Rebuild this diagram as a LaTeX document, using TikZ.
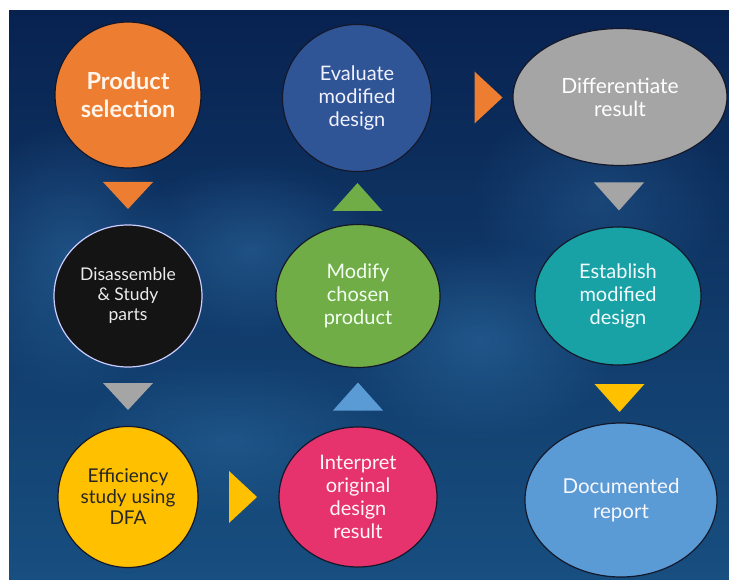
\documentclass[tikz,border=0pt]{standalone}
\usepackage{fontspec}
\setmainfont{Lato}
\usetikzlibrary{shapes.geometric, calc, fadings}

\definecolor{navyTop}{HTML}{082250}
\definecolor{navyMid}{HTML}{1A5890}
\definecolor{navyLow}{HTML}{174F80}
\definecolor{haze}{HTML}{3F86C0}
\definecolor{rimDark}{HTML}{14182A}
\definecolor{orangeS}{HTML}{ED7D31}
\definecolor{blueS}{HTML}{2F5597}
\definecolor{grayS}{HTML}{A5A5A5}
\definecolor{blackS}{HTML}{141414}
\definecolor{yellowS}{HTML}{FFC000}
\definecolor{pinkS}{HTML}{E6336E}
\definecolor{greenS}{HTML}{70AD47}
\definecolor{tealS}{HTML}{19A2A5}
\definecolor{skyS}{HTML}{5B9BD5}

\tikzfading[name=softspot, inner color=transparent!0, outer color=transparent!100]
\tikzstyle{stage}=[ellipse, draw=rimDark, line width=1.2pt, inner sep=0pt, align=center, text=white, font=\fontsize{20}{23}\selectfont]
\tikzstyle{small}=[font=\fontsize{17.5}{20}\selectfont]
\tikzstyle{cloud}=[haze, path fading=softspot, opacity=.35]

\begin{document}
\begin{tikzpicture}[x=1pt, y=1pt]
				\useasboundingbox (0,0) rectangle (729,-580);
				% Backdrop
				\fill[white] (0,0) rectangle (729,-580);
				\shade[top color=navyTop, middle color=navyMid, bottom color=navyLow] (9,-11) rectangle (729,-580);
				\begin{scope}
					\clip (9,-11) rectangle (729,-580);
					\fill[cloud] (70,-260) ellipse (110 and 140);
					\fill[cloud] (250,-250) ellipse (130 and 90);
					\fill[cloud] (480,-340) ellipse (140 and 100);
					\fill[cloud, opacity=.25] (230,-440) ellipse (160 and 80);
					\fill[cloud, opacity=.25] (600,-200) ellipse (130 and 110);
				\end{scope}

				% Stages, column by column
				\node[stage, fill=orangeS, minimum width=146, minimum height=146, text=orange!8, font=\bfseries\fontsize{23.5}{28}\selectfont] (prod) at (128,-95) {Product\\selection};
				\node[stage, fill=blackS, draw=blue!20, small, minimum width=148, minimum height=142, text=black!8] (dis) at (128,-296) {Disassemble\\\& Study\\parts};
				\node[stage, fill=yellowS, minimum width=140, minimum height=141, text=black!85, font=\fontsize{19}{21}\selectfont] (eff) at (128,-497) {Efficiency\\study using\\DFA};

				\node[stage, fill=pinkS, minimum width=158, minimum height=140, text=pink!15] (interp) at (358,-497) {Interpret\\original\\design\\result};
				\node[stage, fill=greenS, minimum width=164, minimum height=143, text=green!5] (modify) at (358,-296) {Modify\\chosen\\product};
				\node[stage, fill=blueS, minimum width=149, minimum height=147, text=blue!5] (eval) at (357,-98) {Evaluate\\modified\\design};

				\node[stage, fill=grayS, minimum width=214, minimum height=137, font=\fontsize{21}{23}\selectfont] (diff) at (620,-97) {Differentiate\\result};
				\node[stage, fill=tealS, minimum width=166, minimum height=138, text=cyan!5] (estab) at (618,-296) {Establish\\modified\\design};
				\node[stage, fill=skyS, minimum width=192, minimum height=154, text=blue!3, font=\fontsize{20.5}{25}\selectfont] (doc) at (621,-500) {Documented\\report};

				% Pointers between stages
				\fill[orangeS] ($(prod)!.5!(dis)$) +(-25,13.5) -- +(25,13.5) -- +(0,-13.5) -- cycle;
				\fill[grayS] ($(dis)!.5!(eff)$) +(-25,13.5) -- +(25,13.5) -- +(0,-13.5) -- cycle;
				\fill[yellowS] ($(eff)!.5!(interp)$) +(-14,26) -- +(-14,-26) -- +(14,0) -- cycle;
				\fill[skyS] ($(interp)!.5!(modify)$) +(-25,-14) -- +(25,-14) -- +(0,14) -- cycle;
				\fill[greenS] ($(modify)!.5!(eval)$) +(-25,-14) -- +(25,-14) -- +(0,14) -- cycle;
				\fill[orangeS] ($(eval)!.5!(diff)$) +(-14,26) -- +(-14,-26) -- +(14,0) -- cycle;
				\fill[grayS] ($(diff)!.5!(estab)$) +(-25,14) -- +(25,14) -- +(0,-14) -- cycle;
				\fill[yellowS] ($(estab)!.5!(doc)$) +(-25,14) -- +(25,14) -- +(0,-14) -- cycle;
			\end{tikzpicture}
\end{document}
